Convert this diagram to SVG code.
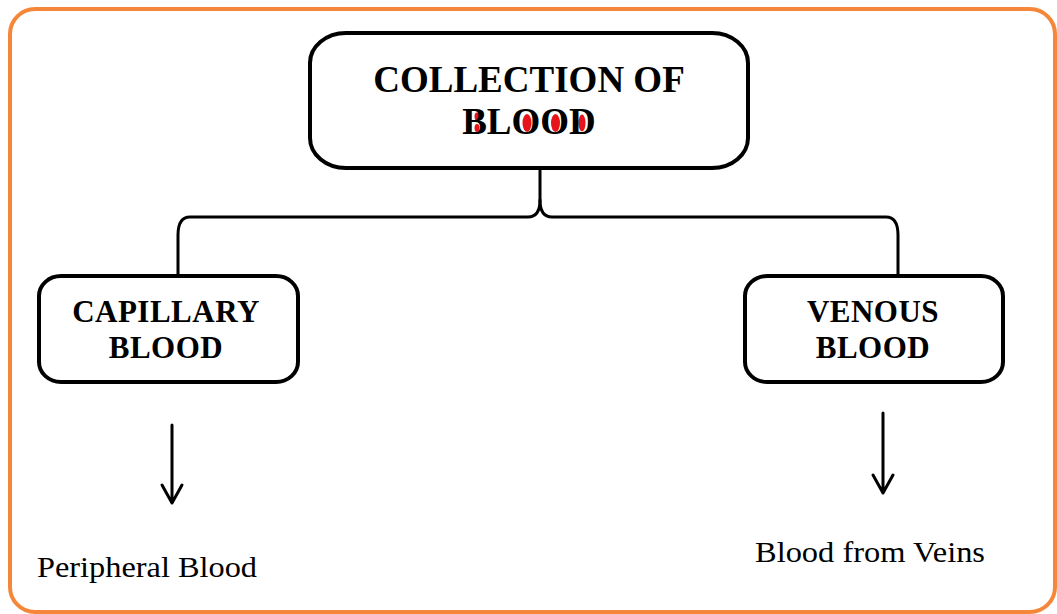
<svg xmlns="http://www.w3.org/2000/svg" width="1057" height="614" viewBox="0 0 1057 614">
  <style>
    .box { fill: #ffffff; stroke: #000000; stroke-width: 4; }
    .conn { fill: none; stroke: #000000; stroke-width: 3; stroke-linecap: round; stroke-linejoin: round; }
    .title { font-family: "Liberation Serif", "Times New Roman", serif; font-weight: bold; fill: #000000; text-anchor: middle; }
    .label { font-family: "Liberation Serif", "Times New Roman", serif; font-size: 30px; fill: #000000; }
    .red { fill: #e8141c; }
  </style>
  <rect x="0" y="0" width="1057" height="614" fill="#ffffff"/>
  <rect x="10" y="9" width="1045" height="603" rx="25" ry="25" fill="none" stroke="#f5873a" stroke-width="4"/>

  <g id="connectors">
    <path class="conn" d="M540,168 L540,200 Q540,217 528,217 L190,217 Q178,217 178,235 L178,275"/>
    <path class="conn" d="M540,200 Q540,217 552,217 L886,217 Q898,217 898,235 L898,275"/>
    <path class="conn" d="M172,425 L172,503 M162,485 L172,503 L182,485"/>
    <path class="conn" d="M883,413 L883,493 M873,475 L883,493 L893,475"/>
  </g>

  <g id="collection">
    <rect class="box" x="310" y="33" width="438" height="135" rx="36" ry="30"/>
    <text class="title" x="529" y="92" font-size="37">COLLECTION OF</text>
    <ellipse class="red" cx="527" cy="123" rx="4.5" ry="9"/>
    <ellipse class="red" cx="555.5" cy="123" rx="4.5" ry="9"/>
    <ellipse class="red" cx="582" cy="123" rx="3.5" ry="8.5"/>
    <ellipse class="red" cx="477" cy="116.5" rx="2.5" ry="4"/>
    <ellipse class="red" cx="477" cy="128" rx="2.5" ry="4"/>
    <text class="title" x="529" y="134" font-size="37">BLOOD</text>
  </g>

  <g id="capillary">
    <rect class="box" x="39" y="276" width="259" height="106" rx="22" ry="20"/>
    <text class="title" x="166" y="322" font-size="31" letter-spacing="0.5">CAPILLARY</text>
    <text class="title" x="166" y="358" font-size="31" letter-spacing="0.5">BLOOD</text>
  </g>

  <g id="venous">
    <rect class="box" x="745" y="276" width="258" height="106" rx="22" ry="20"/>
    <text class="title" x="873" y="322" font-size="31" letter-spacing="0.5">VENOUS</text>
    <text class="title" x="873" y="358" font-size="31" letter-spacing="0.5">BLOOD</text>
  </g>

  <g id="peripheral">
    <text class="label" x="37" y="577" textLength="220" lengthAdjust="spacingAndGlyphs">Peripheral Blood</text>
  </g>

  <g id="veins">
    <text class="label" x="755" y="562" textLength="230" lengthAdjust="spacingAndGlyphs">Blood from Veins</text>
  </g>
</svg>
